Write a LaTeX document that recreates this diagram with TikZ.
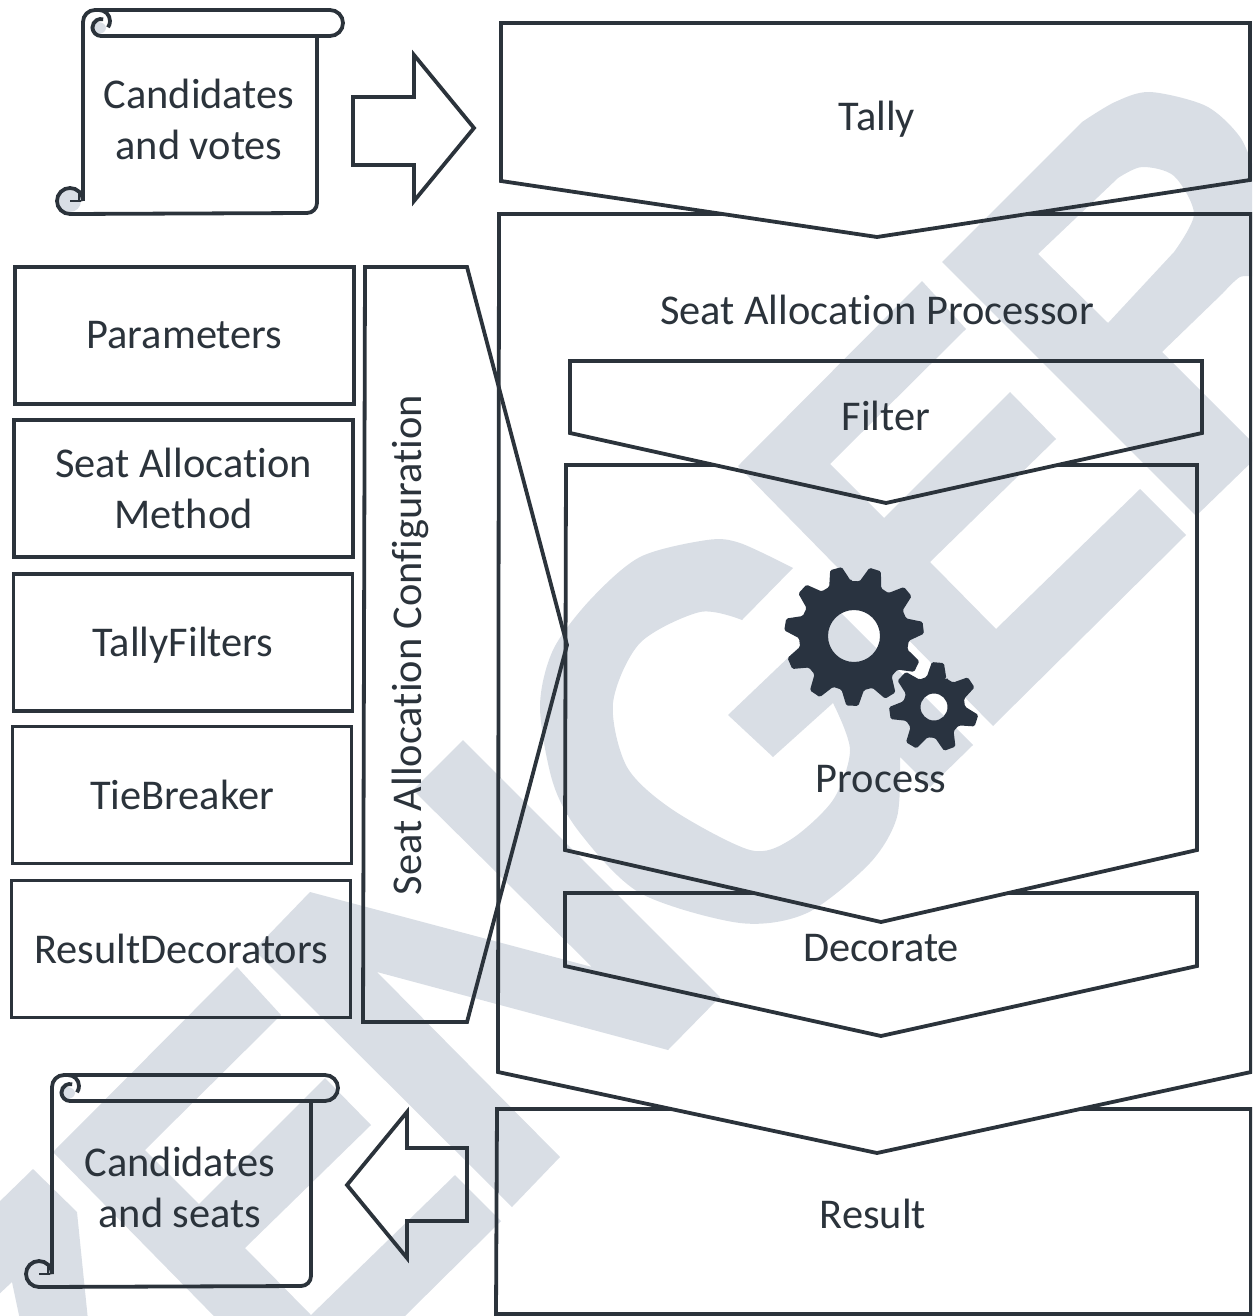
\documentclass[tikz,border=0pt]{standalone}
\usepackage{fontspec}
\setmainfont[Ligatures=NoCommon]{Carlito}
\newlength{\du}
\setlength{\du}{0.5pt}
\definecolor{inkcol}{rgb}{0.17,0.20,0.23}
\definecolor{gearcol}{rgb}{0.16,0.20,0.25}
\definecolor{markcol}{rgb}{0.85,0.87,0.90}
\tikzset{
  outline/.style={draw=inkcol,line width=3.8\du,line join=miter},
  wmark/.style={fill=markcol},
  label/.style={text=inkcol,align=center,inner sep=0pt,font=\fontsize{21.2}{25.5}\selectfont},
  cfgbox/.style={outline,label,minimum width=339\du,minimum height=137\du},
}
% gear: x, y, teeth, tip radius, root radius, hole radius, first tip angle
\newcommand{\gearshape}[7]{
  \pgfmathsetmacro{\gw}{360/#3}
  \fill[gearcol,even odd rule,rounded corners=1.5\du]
    ({#1\du+#5\du*cos(#7-0.36*\gw)},{#2\du-#5\du*sin(#7-0.36*\gw)})
    \foreach \k [evaluate=\k as \a using #7+(\k-1)*\gw] in {1,...,#3}{
      -- ({#1\du+#4\du*cos(\a-0.15*\gw)},{#2\du-#4\du*sin(\a-0.15*\gw)})
      -- ({#1\du+#4\du*cos(\a+0.15*\gw)},{#2\du-#4\du*sin(\a+0.15*\gw)})
      -- ({#1\du+#5\du*cos(\a+0.36*\gw)},{#2\du-#5\du*sin(\a+0.36*\gw)})
      -- ({#1\du+#5\du*cos(\a+0.64*\gw)},{#2\du-#5\du*sin(\a+0.64*\gw)})
    } -- cycle
    (#1\du,#2\du) circle (#6\du);
}
% scroll: left, top, right, roll end, bottom
\newcommand{\scrollshape}[5]{
  \fill[markcol] (#1\du+15\du,#2\du+18\du) ellipse [x radius=8\du,y radius=6\du];
  \fill[markcol] (#1\du-13\du,#5\du-12\du) circle (11\du);
  \draw[outline] (#1\du,#5\du-12\du) -- (#1\du,#2\du+12\du) arc (180:270:12\du) -- (#4\du-13\du,#2\du)
    arc (-90:90:13\du) -- (#1\du+18\du,#2\du+26\du) arc (90:285:8.5\du);
  \draw[outline] (#1\du+16\du,#2\du) arc (-90:35:11\du);
  \draw[outline] (#3\du,#2\du+26\du) -- (#3\du,#5\du-10\du) arc (0:90:10\du) -- (#1\du-13\du,#5\du+1\du)
    arc (90:360:13\du);
  \draw[inkcol,line width=2.6\du] (#1\du-13\du,#5\du-12\du) -- (#1\du-2\du,#5\du-12\du);
  \draw[inkcol,line width=2.6\du] (#1\du-4\du,#5\du-20\du) -- (#1\du-4\du,#5\du-12\du);
}
\begin{document}
\begin{tikzpicture}
\pgftransformxscale{1.000000}
\pgftransformyscale{-1.000000}
\useasboundingbox (0\du,0\du) rectangle (1252\du,1316\du);
\clip (0\du,0\du) rectangle (1252\du,1316\du);
% watermark
\foreach \dx/\dy in {0/0,-685/686}{
  \fill[wmark,shift={(\dx\du,\dy\du)}] (738\du,466\du)--(922\du,281\du)--(966\du,329\du)--(830\du,464\du)--(884\du,518\du)--(1010\du,392\du)--(1056\du,439\du)--(930\du,562\du)--(996\du,629\du)--(1140\du,489\du)--(1186\du,535\du)--(993\du,726\du)--cycle;
}
\fill[wmark] (254\du,950\du)--(512\du,1207\du)--(560\du,1157\du)--(377\du,972\du)--(668\du,1050\du)--(720\du,997\du)--(463\du,740\du)--(413\du,790\du)--(592\du,967\du)--(310\du,892\du)--cycle;
\fill[wmark] (33\du,1169\du)--(77\du,1212\du)--(88\du,1320\du)--(20\du,1320\du)--(12\du,1282\du)--(-4\du,1297\du)--(-4\du,1205\du)--cycle;
\fill[wmark] (793\du,568\du) -- plot[smooth] coordinates {(793\du,568\du)(740\du,543\du)(707\du,540\du)(640\du,557\du)(590\du,600\du)(553\du,650\du)(540\du,707\du)(553\du,783\du)(580\du,833\du)(640\du,893\du)(740\du,923\du)(807\du,913\du)(870\du,863\du)(897\du,817\du)(900\du,757\du)}
  -- (930\du,787\du) -- (973\du,745\du) -- (838\du,610\du) -- (728\du,715\du) -- (773\du,757\du) -- (833\du,703\du)
  -- plot[smooth] coordinates {(833\du,703\du)(850\du,750\du)(833\du,800\du)(790\du,840\du)(750\du,850\du)(673\du,810\du)(627\du,767\du)(613\du,703\du)(640\du,643\du)(700\du,612\du)(742\du,620\du)} -- cycle;
\fill[wmark,even odd rule] (942\du,262\du) -- (1082\du,122\du) -- plot[smooth] coordinates {(1082\du,122\du)(1115\du,102\du)(1150\du,92\du)(1206\du,106\du)(1240\du,137\du)(1256\du,175\du)} -- (1256\du,277\du) -- plot[smooth] coordinates {(1256\du,277\du)(1240\du,277\du)(1223\du,293\du)} -- (1162\du,352\du) -- (1262\du,452\du) -- (1196\du,516\du) -- cycle
  (1038\du,254\du) -- (1118\du,178\du) -- plot[smooth] coordinates {(1118\du,178\du)(1142\du,167\du)(1174\du,176\du)(1194\du,214\du)(1174\du,252\du)} -- (1108\du,323\du) -- cycle;
% gears
\gearshape{854}{636}{11}{70}{55}{26}{105}
\gearshape{934}{707}{7}{45}{31}{13.5}{85}
% scrolls and block arrows
\scrollshape{83}{10}{317}{343}{213}
\scrollshape{52}{1075}{311}{338}{1286}
\draw[outline] (353\du,97\du)--(414\du,97\du)--(414\du,55\du)--(474\du,128\du)--(414\du,201\du)--(414\du,165\du)--(353\du,165\du)--cycle;
\draw[outline] (347\du,1185\du)--(407\du,1112\du)--(407\du,1148\du)--(467\du,1148\du)--(467\du,1221\du)--(407\du,1221\du)--(407\du,1258\du)--cycle;
% configuration boxes
\node[cfgbox] (parameters) at (184.5\du,335.5\du) {Parameters};
\node[cfgbox] (method) at (183.5\du,488.5\du) {Seat Allocation\\Method};
\node[cfgbox] (filters) at (183\du,642.5\du) {\rule{0pt}{17pt}TallyFilters};
\node[cfgbox] (breaker) at (182\du,795\du) {TieBreaker};
\node[cfgbox] (decorators) at (181\du,949\du) {ResultDecorators};
\draw[outline] (365\du,267\du)--(467\du,267\du)--(567\du,645\du)--(467\du,1022\du)--(363\du,1022\du)--cycle;
\node[label,rotate=90] (config) at (410\du,645\du) {Seat Allocation Configuration};
% processor chain
\draw[outline] (501\du,23\du)--(1250\du,23\du)--(1250\du,180\du)--(877\du,237\du)--(501\du,181\du)--cycle;
\draw[outline] (722\du,214\du)--(499\du,214\du)--(498\du,1072\du)--(877\du,1153\du)--(1251\du,1072\du)--(1251\du,214\du)--(1026\du,214\du);
\draw[outline] (671\du,1109\du)--(497\du,1109\du)--(496\du,1314\du)--(1251\du,1314\du)--(1251\du,1109\du)--(1080\du,1109\du);
\draw[outline] (570\du,361\du)--(1202\du,361\du)--(1202\du,433\du)--(886\du,503\du)--(570\du,433\du)--cycle;
\draw[outline] (714\du,465\du)--(566\du,465\du)--(565\du,850\du)--(881\du,922\du)--(1197\du,850\du)--(1197\du,465\du)--(1058\du,465\du);
\draw[outline] (754\du,893\du)--(565\du,893\du)--(565\du,966\du)--(881\du,1036\du)--(1197\du,966\du)--(1197\du,893\du)--(1008\du,893\du);
% labels
\node[label] (votes) at (199\du,119\du) {Candidates\\and votes};
\node[label] (seats) at (180\du,1187\du) {Candidates\\and seats};
\node[label] (tally) at (877\du,119\du) {Tally};
\node[label] (processor) at (877\du,310\du) {Seat Allocation Processor};
\node[label] (filter) at (886\du,416\du) {Filter};
\node[label] (process) at (881\du,779\du) {Process};
\node[label] (decorate) at (881\du,948\du) {Decorate};
\node[label] (result) at (873\du,1214\du) {Result};
\end{tikzpicture}
\end{document}
